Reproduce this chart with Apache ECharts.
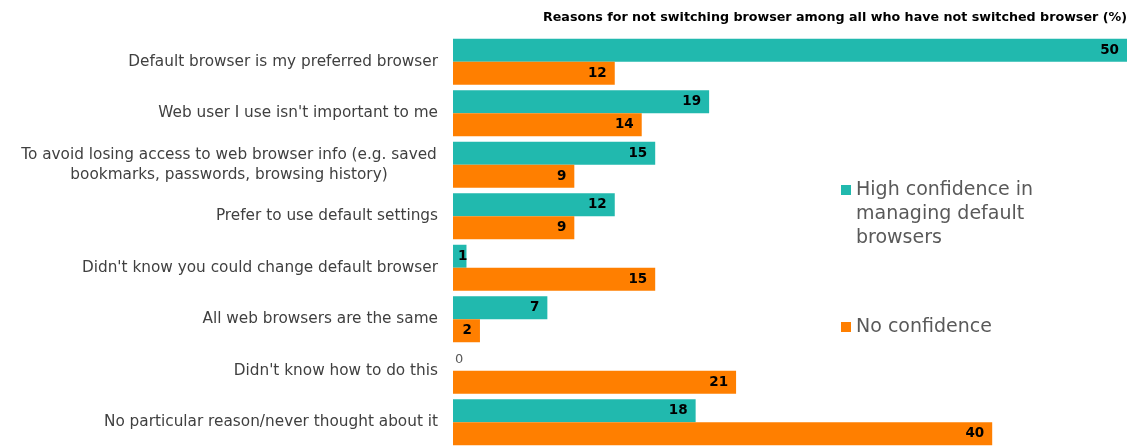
<!DOCTYPE html>
<html>
<head>
<meta charset="utf-8">
<script src="https://cdn.jsdelivr.net/npm/echarts@6/dist/echarts.min.js"></script>
<style>
  html, body { margin: 0; padding: 0; background: #fff; }
  #chart { width: 1131px; height: 448px; }
</style>
</head>
<body>
<div id="chart"></div>
<script>
// Reasons for not switching browser, by confidence in managing default browsers (%)
const categories = [
  'Default browser is my preferred browser',
  "Web user I use isn't important to me",
  'To avoid losing access to web browser info (e.g. saved\nbookmarks, passwords, browsing history)',
  'Prefer to use default settings',
  "Didn't know you could change default browser",
  'All web browsers are the same',
  "Didn't know how to do this",
  'No particular reason/never thought about it'
];
const highConfidence = [50, 19, 15, 12, 1, 7, 0, 18];
const noConfidence = [12, 14, 9, 9, 15, 2, 21, 40];

const seriesNames = ['High confidence in managing default browsers', 'No confidence'];
const titleText = 'Reasons for not switching browser among all who have not switched browser (%)';

const TEAL = '#21B9AE';
const ORANGE = '#FF7F00';
const FONT = "'DejaVu Sans', sans-serif";

const valueLabel = {
  show: true,
  position: 'insideRight',
  distance: 8,
  color: '#000',
  fontWeight: 'bold',
  fontSize: 13.5,
  fontFamily: FONT
};

// zero values get a plain label at the axis start; very short bars keep the label at their end
function toItems(values) {
  return values.map(v => {
    if (v === 0) {
      return { value: v, label: { position: 'insideLeft', distance: 2, fontWeight: 'normal', fontSize: 13, color: '#595959' } };
    }
    if (v < 2) {
      return { value: v, label: { distance: -1 } };
    }
    return v;
  });
}

// the wrapped category label keeps its lines centred on each other
const categoryData = categories.map(c => c.indexOf('\n') >= 0
  ? { value: c, textStyle: { align: 'center', padding: [0, 418, 0, 0] } }
  : c);

const legendText = { fontFamily: FONT, fontSize: 19, color: '#595959', lineHeight: 24 };

const chart = echarts.init(document.getElementById('chart'), null, { renderer: 'canvas' });
chart.setOption({
  animation: false,
  backgroundColor: '#fff',
  title: {
    text: titleText,
    right: 4,
    top: 11,
    padding: 0,
    textStyle: { fontFamily: FONT, fontSize: 12.7, fontWeight: 'bold', color: '#000' }
  },
  legend: [
    {
      data: [seriesNames[0]],
      orient: 'vertical',
      left: 841,
      top: 130,
      padding: 0,
      icon: 'rect',
      itemWidth: 10,
      itemHeight: 10,
      // two empty lines above keep the marker level with the first line
      formatter: () => '\n\nHigh confidence in\nmanaging default\nbrowsers',
      textStyle: legendText
    },
    {
      data: [seriesNames[1]],
      orient: 'vertical',
      left: 841,
      top: 315,
      padding: 0,
      icon: 'rect',
      itemWidth: 10,
      itemHeight: 10,
      textStyle: legendText
    }
  ],
  grid: { left: 453, right: 4, top: 36, height: 416, containLabel: false },
  xAxis: {
    type: 'value',
    min: 0,
    max: 50,
    show: false
  },
  yAxis: {
    type: 'category',
    inverse: true,
    data: categoryData,
    axisLine: { show: false },
    axisTick: { show: false },
    axisLabel: {
      margin: 15,
      fontFamily: FONT,
      fontSize: 15.3,
      lineHeight: 20,
      color: '#404040'
    }
  },
  series: [
    {
      name: seriesNames[0],
      type: 'bar',
      data: toItems(highConfidence),
      barWidth: 23,
      barGap: '0%',
      itemStyle: { color: TEAL },
      label: valueLabel
    },
    {
      name: seriesNames[1],
      type: 'bar',
      data: toItems(noConfidence),
      barWidth: 23,
      barGap: '0%',
      itemStyle: { color: ORANGE },
      label: valueLabel
    }
  ]
});
</script>
</body>
</html>
